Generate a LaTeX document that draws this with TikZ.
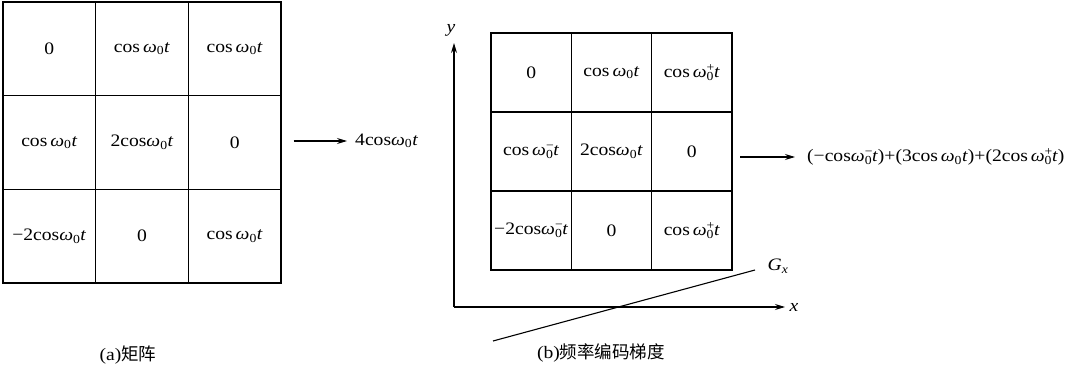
\documentclass[tikz,border=0pt]{standalone}
\usepackage{fontspec}
\setmainfont{Liberation Serif}[FakeStretch=1.12]
\newfontfamily\cjk{Noto Sans CJK SC}
\usetikzlibrary{arrows.meta}
\newcommand{\om}{\textit{ω}}
\newcommand{\wz}{\om\textsubscript{0}}
\newcommand{\wplus}{\om\rlap{\textsuperscript{+}}\textsubscript{0}}
\newcommand{\wminus}{\om\rlap{\textsuperscript{−}}\textsubscript{0}}
\begin{document}
\begin{tikzpicture}[x=1pt,y=-1pt,
  every node/.style={font=\fontsize{17.5}{20}\selectfont},
  cellA/.style={draw, line width=1.3pt, minimum width=92.7pt, minimum height=93.7pt, inner sep=0pt},
  cellB/.style={draw, line width=1.3pt, minimum width=80.3pt, minimum height=79pt, inner sep=0pt},
  arr/.style={-{Stealth[length=10pt,width=6pt]}, line width=1.1pt},
  ln/.style={line width=1.1pt}]
\useasboundingbox (0,0) rectangle (1071,369);
% (a) matrix
\node[cellA] (a11) at (49.3,48.8) {0};
\node[cellA] (a12) at (142,48.8) {cos\,\wz\textit{t}};
\node[cellA] (a13) at (234.7,48.8) {cos\,\wz\textit{t}};
\node[cellA] (a21) at (49.3,142.5) {cos\,\wz\textit{t}};
\node[cellA] (a22) at (142,142.5) {2cos\wz\textit{t}};
\node[cellA] (a23) at (234.7,142.5) {0};
\node[cellA] (a31) at (49.3,236.2) {−2cos\wz\textit{t}};
\node[cellA] (a32) at (142,236.2) {0};
\node[cellA] (a33) at (234.7,236.2) {cos\,\wz\textit{t}};
\node[anchor=west, inner sep=0pt] (ra) at (355,141) {4cos\wz\textit{t}};
\draw[arr, shorten >=8pt] ([xshift=12pt]a23.east |- ra.west) -- (ra.west);
\node (capa) at (128,355) {(a)\cjk 矩阵};
% (b) frequency encoding
\node[cellB] (b11) at (531.2,72.5) {0};
\node[cellB] (b12) at (611.5,72.5) {cos\,\wz\textit{t}};
\node[cellB] (b13) at (691.8,72.5) {cos\,\wplus\textit{t}};
\node[cellB] (b21) at (531.2,151.5) {cos\,\wminus\textit{t}};
\node[cellB] (b22) at (611.5,151.5) {2cos\wz\textit{t}};
\node[cellB] (b23) at (691.8,151.5) {0};
\node[cellB] (b31) at (531.2,230.5) {−2cos\wminus\textit{t}};
\node[cellB] (b32) at (611.5,230.5) {0};
\node[cellB] (b33) at (691.8,230.5) {cos\,\wplus\textit{t}};
\node[anchor=west, inner sep=0pt] (rb) at (807,157) {(−cos\wminus\textit{t})+(3cos\,\wz\textit{t})+(2cos\,\wplus\textit{t})};
\coordinate (rbs) at (740,157);
\draw[arr, shorten >=12pt] (rbs) -- (rb.west);
% axes
\coordinate (o) at (454,307);
\coordinate (ytip) at (454,43);
\coordinate (xtip) at (785,307);
\draw[arr] (o) -- (ytip);
\draw[arr] (o) -- (xtip);
\node (ylab) at (451,30) {\textit{y}};
\node (xlab) at (794,307) {\textit{x}};
\coordinate (g1) at (493,341);
\coordinate (g2) at (755,270);
\draw[ln] (g1) -- (g2);
\node (glab) at (778,266) {\textit{G}\textsubscript{\textit{x}}};
\node (capb) at (601,353) {(b)\cjk 频率编码梯度};
\end{tikzpicture}
\end{document}
